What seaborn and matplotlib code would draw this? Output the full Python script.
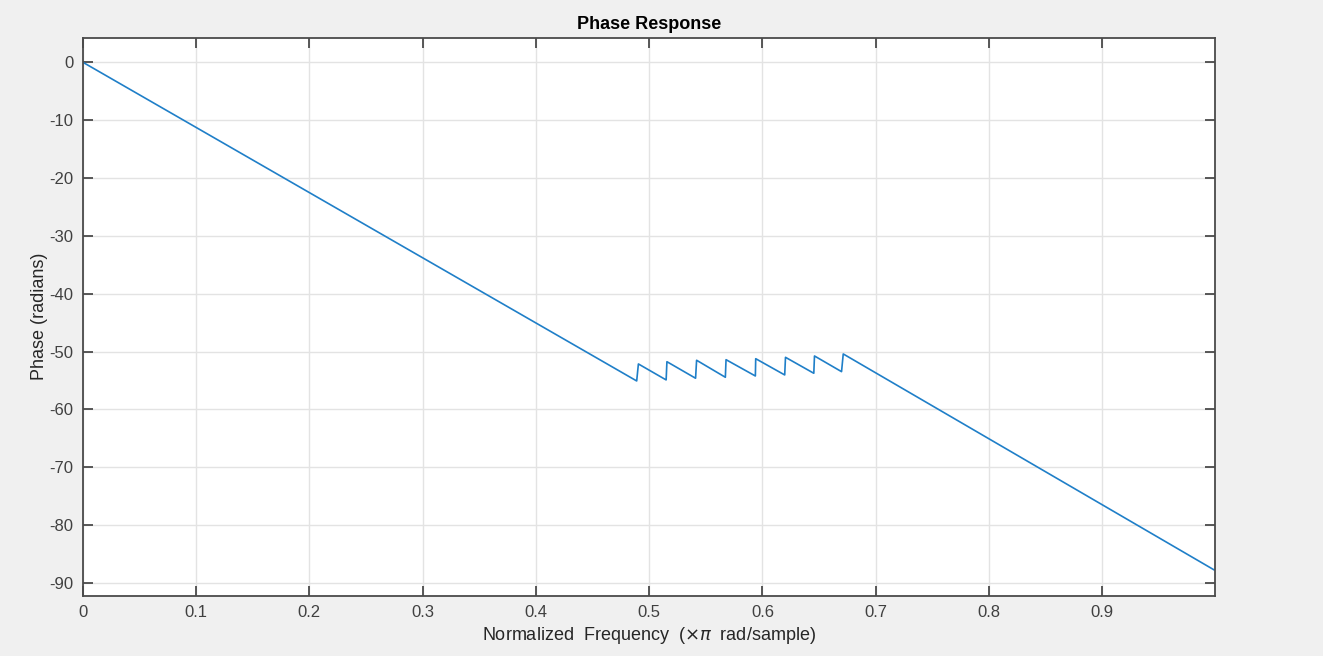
import matplotlib
matplotlib.use("Agg")
import matplotlib.pyplot as plt
import seaborn as sns
import pandas as pd

# Polyline vertices of the phase response
freq = [0.0, 0.4890, 0.4905, 0.5150, 0.5157, 0.5410, 0.5419, 0.5673, 0.5679,
        0.5938, 0.5941, 0.6197, 0.6204, 0.6454, 0.6460, 0.6699, 0.6714, 0.999]
phase = [0.0, -55.08, -52.14, -54.90, -51.75, -54.61, -51.50, -54.44, -51.40,
         -54.22, -51.23, -54.04, -50.99, -53.75, -50.76, -53.47, -50.41, -87.75]

xticks = [0, 0.1, 0.2, 0.3, 0.4, 0.5, 0.6, 0.7, 0.8, 0.9]
xticklabels = ["0", "0.1", "0.2", "0.3", "0.4", "0.5", "0.6", "0.7", "0.8", "0.9"]
yticks = [0, -10, -20, -30, -40, -50, -60, -70, -80, -90]
yticklabels = ["0", "-10", "-20", "-30", "-40", "-50", "-60", "-70", "-80", "-90"]

df = pd.DataFrame({"freq": freq, "phase": phase})

sns.set_theme(style="white")
plt.rcParams["font.family"] = ["Liberation Sans", "DejaVu Sans"]
plt.rcParams["axes.unicode_minus"] = False

fig = plt.figure(figsize=(13.23, 6.56), dpi=100, facecolor="#f0f0f0")
ax = fig.add_axes([0.0627, 0.0919, 0.9182 - 0.0627, 0.9425 - 0.0919])
ax.set_facecolor("white")

sns.lineplot(data=df, x="freq", y="phase", sort=False, estimator=None,
             color="#1f7fc8", linewidth=1.2, ax=ax)

ax.set_xlim(0, 0.9995)
ax.set_ylim(-92.2, 4.25)
ax.set_xticks(xticks)
ax.set_xticklabels(xticklabels)
ax.set_yticks(yticks)
ax.set_yticklabels(yticklabels)
ax.grid(True, color="#e3e3e3", linewidth=1.0)
ax.set_axisbelow(True)

for s in ax.spines.values():
    s.set_visible(True)
    s.set_color("#4a4a4a")
    s.set_linewidth(1.3)

ax.tick_params(axis="both", direction="in", length=7, width=1.3, color="#4a4a4a",
               labelsize=12, labelcolor="#404040", top=True, right=True,
               bottom=True, left=True, pad=7)

ax.set_title("Phase Response", fontsize=13, fontweight="bold", color="black", pad=6)
ax.set_xlabel(r"Normalized  Frequency  ($\times\pi$  rad/sample)", fontsize=13,
              color="#262626", labelpad=3)
ax.set_ylabel("Phase (radians)", fontsize=13, color="#262626", labelpad=1)

fig.savefig("out.png", dpi=100, facecolor=fig.get_facecolor())
